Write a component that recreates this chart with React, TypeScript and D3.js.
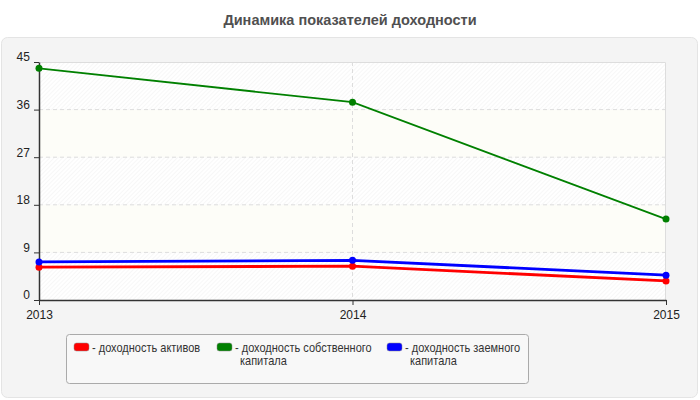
import { useEffect, useRef } from 'react'
import * as d3 from 'd3'

const years = ['2013', '2014', '2015']
const yTicks = [0, 9, 18, 27, 36, 45]
const roa = [6.2, 6.4, 3.6]
const roe = [43.8, 37.4, 15.3]
const rod = [7.2, 7.5, 4.7]

const series = [
  { name: 'доходность активов', lines: ['доходность активов'], color: '#ff0000', values: roa, width: 2.8 },
  { name: 'доходность собственного капитала', lines: ['доходность собственного', 'капитала'], color: '#008000', values: roe, width: 1.8 },
  { name: 'доходность заемного капитала', lines: ['доходность заемного', 'капитала'], color: '#0000ff', values: rod, width: 2.8 },
]

const FONT = 'Arial, "Liberation Sans", sans-serif'

export default function App() {
  const svgRef = useRef<SVGSVGElement>(null)

  useEffect(() => {
    const svgEl = svgRef.current
    if (!svgEl) return
    const width = 700
    const height = 400
    const margin = { top: 62, right: 34, bottom: 100, left: 39 }
    const innerW = width - margin.left - margin.right
    const innerH = height - margin.top - margin.bottom

    const svg = d3.select(svgEl)
    svg.selectAll('*').remove()

    const defs = svg.append('defs')
    const pat = defs.append('pattern')
      .attr('id', 'hatch')
      .attr('patternUnits', 'userSpaceOnUse')
      .attr('width', 3).attr('height', 3)
      .attr('patternTransform', 'rotate(45)')
    pat.append('rect').attr('width', 3).attr('height', 3).attr('fill', '#ffffff')
    pat.append('line').attr('x1', 0).attr('y1', 0).attr('x2', 0).attr('y2', 3)
      .attr('stroke', '#efefef').attr('stroke-width', 1)

    // Panel
    svg.append('rect').attr('width', width).attr('height', height).attr('fill', '#ffffff')
    svg.append('rect')
      .attr('x', 1.5).attr('y', 37.5).attr('width', 696).attr('height', 360).attr('rx', 6)
      .attr('fill', '#f4f4f4').attr('stroke', '#e4e4e4')

    svg.append('text')
      .attr('x', 350).attr('y', 25)
      .attr('text-anchor', 'middle')
      .style('font-family', FONT).style('font-size', '14.5px').style('font-weight', 'bold')
      .style('fill', '#505050')
      .text('Динамика показателей доходности')

    const x = d3.scalePoint<string>().domain(years).range([0, innerW])
    const y = d3.scaleLinear().domain([0, 45]).range([innerH, 0])

    const g = svg.append('g').attr('transform', `translate(${margin.left},${margin.top})`)

    // Alternating bands
    for (let i = 0; i < yTicks.length - 1; i++) {
      const y0 = y(yTicks[i + 1])
      const y1 = y(yTicks[i])
      g.append('rect')
        .attr('x', 0).attr('y', y0).attr('width', innerW).attr('height', y1 - y0)
        .attr('fill', i % 2 === 0 ? 'url(#hatch)' : '#fdfdf8')
    }

    // Grid
    g.append('g')
      .selectAll('line')
      .data(yTicks.filter(d => d > 0 && d < 45))
      .join('line')
      .attr('x1', 0).attr('x2', innerW)
      .attr('y1', d => y(d)).attr('y2', d => y(d))
      .attr('stroke', '#dddddd').attr('stroke-dasharray', '4 3')
    g.append('line')
      .attr('x1', x('2014')!).attr('x2', x('2014')!)
      .attr('y1', 0).attr('y2', innerH)
      .attr('stroke', '#dddddd').attr('stroke-dasharray', '4 3')
    g.append('path')
      .attr('d', `M0,0.5H${innerW - 0.5}V${innerH}`)
      .attr('fill', 'none').attr('stroke', '#dddddd')

    // Axes
    const xAxisG = g.append('g').attr('transform', `translate(0,${innerH})`)
      .call(d3.axisBottom(x).tickSize(5).tickSizeOuter(0))
    const yAxisG = g.append('g')
      .call(d3.axisLeft(y).tickValues(yTicks).tickSize(5).tickSizeOuter(0))
    for (const ax of [xAxisG, yAxisG]) {
      ax.select('.domain').attr('stroke', '#333333').attr('stroke-width', 1.5)
      ax.selectAll('.tick line').attr('stroke', '#333333')
      ax.selectAll('text')
        .style('font-family', FONT).style('font-size', '12px').style('fill', '#222222')
    }
    xAxisG.selectAll('text').attr('dy', '0.9em')
    yAxisG.selectAll('text').attr('dx', '-0.1em').attr('dy', '-0.1em')

    // Lines
    const line = d3.line<number>()
      .x((_, i) => x(years[i])!)
      .y(d => y(d))

    for (const s of series) {
      g.append('path')
        .datum(s.values)
        .attr('fill', 'none')
        .attr('stroke', s.color)
        .attr('stroke-width', s.width)
        .attr('d', line)
      g.append('g')
        .selectAll('circle')
        .data(s.values)
        .join('circle')
        .attr('cx', (_, i) => x(years[i])!)
        .attr('cy', d => y(d))
        .attr('r', 3.5)
        .attr('fill', s.color)
    }

    // Legend (text squeezed horizontally, the original font is a narrow one)
    const squeeze = 0.88
    const lg = svg.append('g').attr('transform', 'translate(66,334)')
    lg.append('rect')
      .attr('x', 0.5).attr('y', 0.5).attr('width', 462).attr('height', 49).attr('rx', 3)
      .attr('fill', '#f8f8f8').attr('stroke', '#aaaaaa')
    const itemX = [8, 151, 321]
    series.forEach((s, i) => {
      const it = lg.append('g').attr('transform', `translate(${itemX[i]},9)`)
      it.append('rect')
        .attr('x', 0).attr('y', 0).attr('width', 15).attr('height', 8).attr('rx', 2.5)
        .attr('fill', s.color).attr('stroke', '#888888').attr('stroke-width', 0.5)
      const t = it.append('text')
        .attr('transform', `translate(18,0) scale(${squeeze},1)`)
        .style('font-family', FONT).style('font-size', '12.5px').style('fill', '#333333')
      s.lines.forEach((ln, j) => {
        t.append('tspan')
          .attr('x', j === 0 ? 0 : 5 / squeeze)
          .attr('y', 9 + j * 13)
          .text(j === 0 ? `- ${ln}` : ln)
      })
    })
  }, [])

  return (
    <div style={{ position: 'absolute', left: 0, top: 0 }}>
      <svg ref={svgRef} width={700} height={400} style={{ display: 'block' }} />
    </div>
  )
}
